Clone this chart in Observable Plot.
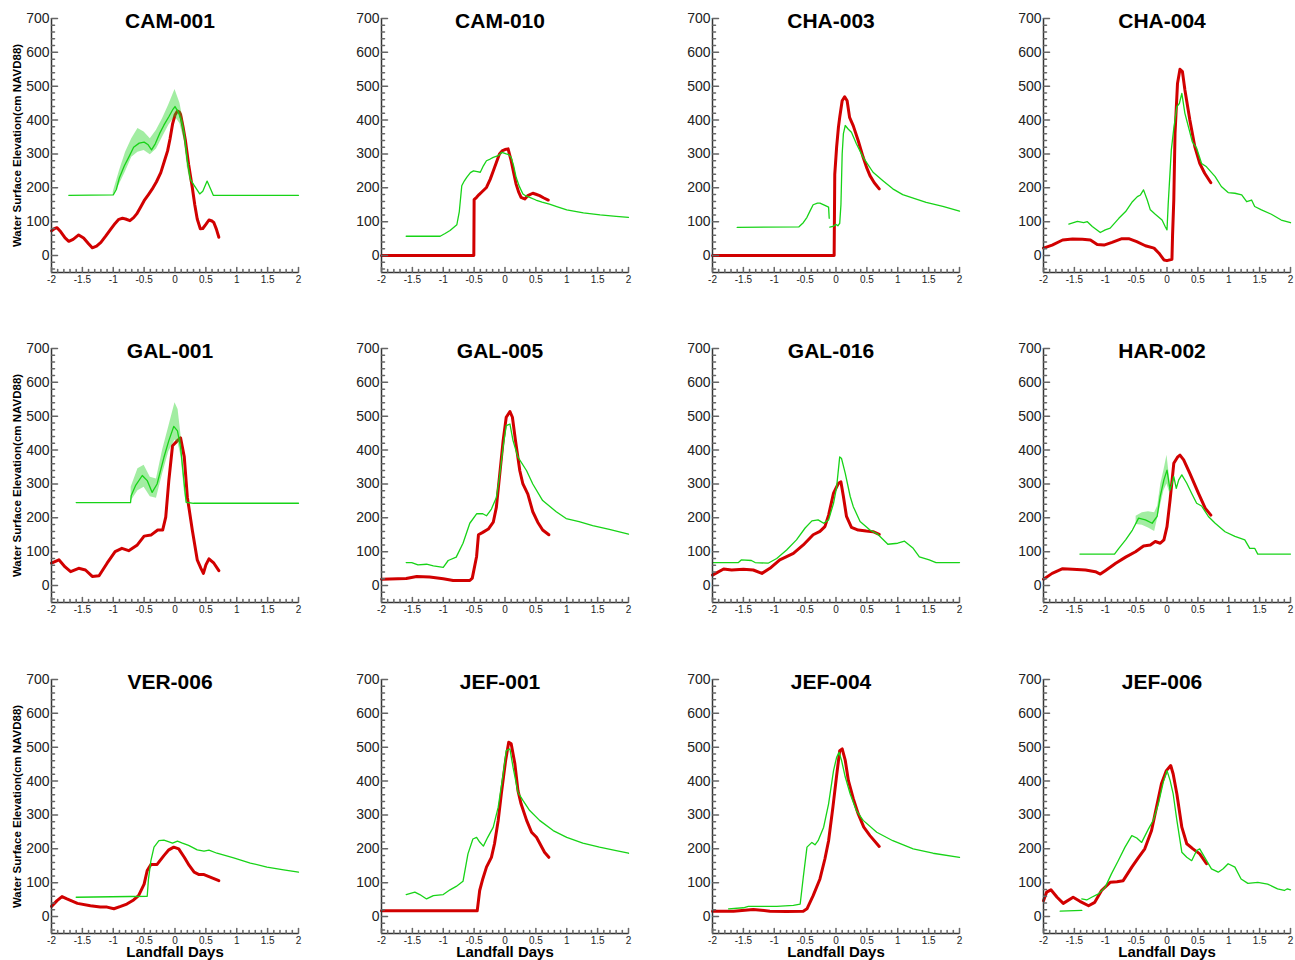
<!DOCTYPE html>
<html><head><meta charset="utf-8">
<script src="https://cdn.jsdelivr.net/npm/d3@7"></script>
<script src="https://cdn.jsdelivr.net/npm/@observablehq/plot@0.6"></script>
<style>
html,body{margin:0;padding:0;background:#fff;overflow:hidden;width:1295px;height:960px;}
#grid{position:relative;width:1295px;height:960px;overflow:hidden;}
.cell{position:absolute;width:330px;height:330px;}
.cell svg{max-width:none !important;}
</style></head><body><div id="grid"></div>
<script>
const stations = ["CAM-001","CAM-010","CHA-003","CHA-004","GAL-001","GAL-005","GAL-016","HAR-002","VER-006","JEF-001","JEF-004","JEF-006"];
const xDomain = [-2, 2];
const yDomain = [-50, 700];
const xMajor = [-2,-1.5,-1,-0.5,0,0.5,1,1.5,2];
const xMinor = d3.range(-20, 21).map(i => i / 10).filter(v => !xMajor.includes(v));
const yMajor = [0,100,200,300,400,500,600,700];
const yMinor = d3.range(-40, 701, 20).filter(v => !yMajor.includes(v));
const yLabel = "Water Surface Elevation(cm NAVD88)";
const xLabel = "Landfall Days";

// ---------- CAM-001
const redCAM001 = [[-2,73],[-1.95,80],[-1.91,82],[-1.85,70],[-1.78,52],[-1.72,42],[-1.65,48],[-1.56,61],[-1.48,52],[-1.4,35],[-1.34,23],[-1.27,28],[-1.2,39],[-1.12,58],[-1.04,78],[-0.97,95],[-0.91,107],[-0.85,110],[-0.8,108],[-0.73,103],[-0.67,112],[-0.62,123],[-0.56,142],[-0.5,162],[-0.43,180],[-0.37,196],[-0.3,218],[-0.23,245],[-0.17,280],[-0.12,309],[-0.08,345],[-0.04,388],[0,415],[0.04,427],[0.07,424],[0.09,417],[0.13,380],[0.17,338],[0.22,270],[0.28,201],[0.32,150],[0.36,108],[0.41,79],[0.45,80],[0.5,92],[0.55,105],[0.6,102],[0.63,97],[0.67,78],[0.71,54]];
const greenCAM001 = [[-1.72,178],[-1.0,179],[-0.95,195],[-0.9,230],[-0.82,265],[-0.75,290],[-0.67,320],[-0.58,332],[-0.5,335],[-0.44,328],[-0.38,312],[-0.32,330],[-0.25,360],[-0.18,385],[-0.1,410],[-0.04,430],[0,440],[0.05,425],[0.1,400],[0.15,360],[0.2,280],[0.25,225],[0.3,210],[0.35,196],[0.4,182],[0.45,190],[0.52,220],[0.58,195],[0.62,178],[2,178]];
const cloudCAM001 = [[-1.0,178,188],[-0.9,210,250],[-0.8,248,305],[-0.7,290,345],[-0.6,305,375],[-0.5,310,365],[-0.4,298,345],[-0.3,315,370],[-0.2,350,405],[-0.1,385,445],[0,410,490],[0.08,390,450],[0.15,340,385],[0.2,260,305],[0.25,215,235]];
// ---------- CAM-010
const redCAM010 = [[-2,0],[-0.505,0],[-0.5,165],[-0.46,172],[-0.42,180],[-0.38,187],[-0.3,201],[-0.24,225],[-0.19,250],[-0.14,275],[-0.09,300],[-0.04,310],[0,313],[0.05,315],[0.1,280],[0.14,245],[0.18,211],[0.22,188],[0.26,172],[0.32,167],[0.37,177],[0.45,184],[0.5,181],[0.56,177],[0.63,170],[0.7,164]];
const greenCAM010 = [[-1.6,57],[-1.05,57],[-0.97,65],[-0.89,74],[-0.78,91],[-0.74,130],[-0.7,206],[-0.66,220],[-0.62,231],[-0.56,245],[-0.51,250],[-0.45,248],[-0.4,246],[-0.35,265],[-0.3,280],[-0.24,285],[-0.19,290],[-0.11,295],[-0.05,305],[0.02,300],[0.06,298],[0.1,290],[0.14,265],[0.18,231],[0.23,205],[0.29,182],[0.34,176],[0.4,172],[0.5,164],[0.6,158],[0.72,152],[0.85,144],[1.0,135],[1.27,126],[1.54,120],[1.8,116],[2.0,113]];
// ---------- CHA-003
const redCHA003 = [[-2,0],[-0.03,0],[-0.02,240],[0.01,320],[0.04,380],[0.06,408],[0.1,457],[0.14,469],[0.18,457],[0.22,408],[0.28,383],[0.36,339],[0.44,290],[0.5,258],[0.55,236],[0.62,215],[0.7,197]];
const greenCHA003 = [[-1.6,83],[-0.6,85],[-0.53,97],[-0.47,113],[-0.42,132],[-0.37,150],[-0.3,155],[-0.26,155],[-0.18,148],[-0.12,143],[-0.11,110],[-0.1,null],[-0.1,84],[-0.05,86],[0,92],[0.03,88],[0.06,95],[0.08,150],[0.1,300],[0.12,360],[0.15,384],[0.2,373],[0.25,364],[0.33,330],[0.44,290],[0.6,246],[0.76,221],[0.92,197],[1.08,180],[1.3,167],[1.46,157],[1.73,145],[2.0,131]];
// ---------- CHA-004
const redCHA004 = [[-2,22],[-1.86,31],[-1.69,46],[-1.53,49],[-1.37,48],[-1.24,46],[-1.13,33],[-1.02,31],[-0.89,39],[-0.73,50],[-0.62,50],[-0.49,41],[-0.35,29],[-0.21,22],[-0.13,7],[-0.05,-13],[0,-15],[0.08,-11],[0.09,60],[0.11,164],[0.13,361],[0.17,508],[0.21,550],[0.25,543],[0.29,489],[0.37,400],[0.45,322],[0.53,272],[0.61,243],[0.71,215]];
const greenCHA004 = [[-1.59,93],[-1.45,101],[-1.35,97],[-1.29,100],[-1.21,86],[-1.08,68],[-1.0,76],[-0.92,81],[-0.78,110],[-0.67,130],[-0.56,159],[-0.48,174],[-0.43,179],[-0.38,194],[-0.32,164],[-0.27,135],[-0.19,122],[-0.08,105],[-0.03,86],[0,76],[0.02,154],[0.07,312],[0.11,376],[0.16,440],[0.2,449],[0.24,479],[0.29,420],[0.36,371],[0.41,336],[0.48,317],[0.56,272],[0.64,262],[0.78,233],[0.88,204],[0.99,186],[1.1,184],[1.21,179],[1.29,159],[1.37,164],[1.42,145],[1.53,135],[1.69,122],[1.85,105],[2.0,97]];
// ---------- GAL-001
const redGAL001 = [[-2,66],[-1.88,76],[-1.78,55],[-1.69,41],[-1.56,51],[-1.45,46],[-1.34,27],[-1.23,29],[-1.1,66],[-0.97,100],[-0.86,110],[-0.75,103],[-0.61,120],[-0.5,146],[-0.39,149],[-0.28,164],[-0.2,164],[-0.15,202],[-0.1,310],[-0.04,413],[0.04,428],[0.09,436],[0.15,380],[0.2,261],[0.28,164],[0.36,76],[0.42,51],[0.46,36],[0.5,61],[0.55,79],[0.63,66],[0.71,44]];
const greenGAL001 = [[-1.6,245],[-0.72,245],[-0.71,265],[-0.64,295],[-0.53,325],[-0.45,310],[-0.37,275],[-0.29,300],[-0.18,378],[-0.1,428],[-0.02,470],[0.04,457],[0.09,408],[0.15,300],[0.18,246],[0.3,243],[2.0,243]];
const cloudGAL001 = [[-0.71,250,290],[-0.6,280,345],[-0.5,290,355],[-0.4,262,320],[-0.3,258,315],[-0.2,330,400],[-0.1,395,470],[0,430,540],[0.05,420,520],[0.1,380,440],[0.15,280,320],[0.18,246,260]];
// ---------- GAL-005
const redGAL005 = [[-2,19],[-1.6,21],[-1.43,27],[-1.22,25],[-1.0,20],[-0.84,15],[-0.57,15],[-0.53,22],[-0.46,86],[-0.43,150],[-0.36,157],[-0.27,167],[-0.19,187],[-0.14,231],[-0.09,320],[-0.03,428],[0.02,497],[0.08,514],[0.12,497],[0.17,428],[0.24,339],[0.29,300],[0.37,270],[0.45,218],[0.53,187],[0.61,164],[0.71,150]];
const greenGAL005 = [[-1.6,68],[-1.51,68],[-1.41,61],[-1.27,63],[-1.16,58],[-1.0,54],[-0.92,74],[-0.79,84],[-0.68,125],[-0.57,184],[-0.46,212],[-0.36,212],[-0.3,206],[-0.22,226],[-0.14,260],[-0.09,320],[-0.03,410],[0.02,472],[0.08,477],[0.13,428],[0.21,379],[0.35,339],[0.45,300],[0.61,251],[0.83,218],[0.99,198],[1.2,189],[1.42,177],[1.69,166],[2.0,152]];
// ---------- GAL-016
const redGAL016 = [[-2,31],[-1.82,49],[-1.69,46],[-1.5,48],[-1.34,46],[-1.2,36],[-1.07,51],[-0.91,76],[-0.69,95],[-0.53,120],[-0.37,150],[-0.26,160],[-0.18,174],[-0.12,208],[-0.04,273],[0.04,302],[0.08,306],[0.12,263],[0.17,204],[0.25,172],[0.36,164],[0.49,161],[0.6,159],[0.7,151]];
const greenGAL016 = [[-2,68],[-1.58,68],[-1.53,76],[-1.37,74],[-1.31,68],[-1.1,66],[-0.96,80],[-0.8,105],[-0.64,135],[-0.5,170],[-0.39,191],[-0.29,194],[-0.2,184],[-0.12,194],[-0.04,243],[0.01,291],[0.06,380],[0.09,375],[0.15,331],[0.23,263],[0.28,233],[0.39,189],[0.55,164],[0.68,151],[0.84,122],[1.0,125],[1.11,131],[1.25,110],[1.35,85],[1.51,76],[1.62,68],[2.0,68]];
// ---------- HAR-002
const redHAR002 = [[-2,19],[-1.86,36],[-1.69,50],[-1.53,48],[-1.32,46],[-1.16,41],[-1.08,34],[-1.0,44],[-0.83,66],[-0.67,84],[-0.51,100],[-0.38,117],[-0.27,120],[-0.19,130],[-0.11,125],[-0.05,135],[0.0,174],[0.05,253],[0.11,361],[0.17,379],[0.21,385],[0.27,371],[0.37,331],[0.51,272],[0.62,228],[0.71,208]];
const greenHAR002 = [[-1.41,93],[-0.85,93],[-0.78,110],[-0.67,135],[-0.56,164],[-0.46,199],[-0.35,194],[-0.24,184],[-0.16,204],[-0.11,263],[-0.05,312],[0.0,341],[0.05,282],[0.11,322],[0.15,287],[0.19,312],[0.24,327],[0.32,302],[0.4,272],[0.48,243],[0.56,235],[0.67,204],[0.78,184],[0.94,159],[1.1,145],[1.26,135],[1.34,110],[1.42,110],[1.47,93],[2.0,93]];
const cloudHAR002 = [[-0.5,180,205],[-0.4,178,215],[-0.3,170,218],[-0.2,160,215],[-0.15,200,235],[-0.1,240,300],[-0.05,280,340],[0,300,385],[0.05,270,305]];
// ---------- VER-006
const redVER006 = [[-2,30],[-1.91,47],[-1.83,59],[-1.75,52],[-1.58,39],[-1.37,32],[-1.21,28],[-1.1,28],[-0.99,23],[-0.88,30],[-0.78,37],[-0.67,49],[-0.59,62],[-0.5,96],[-0.45,136],[-0.39,154],[-0.29,154],[-0.18,180],[-0.1,197],[-0.02,205],[0.06,200],[0.15,175],[0.23,151],[0.31,131],[0.39,124],[0.47,124],[0.58,116],[0.71,106]];
const greenVER006 = [[-1.6,57],[-0.45,60],[-0.43,110],[-0.39,165],[-0.34,205],[-0.26,224],[-0.18,226],[-0.12,222],[-0.04,217],[0.04,223],[0.12,217],[0.22,210],[0.36,197],[0.47,193],[0.55,196],[0.68,187],[0.95,173],[1.22,158],[1.49,146],[1.76,138],[2.0,131]];
// ---------- JEF-001
const redJEF001 = [[-2,17],[-0.45,17],[-0.41,77],[-0.36,111],[-0.3,146],[-0.22,175],[-0.17,215],[-0.11,284],[-0.06,362],[0.01,461],[0.06,515],[0.1,510],[0.16,451],[0.21,372],[0.26,333],[0.35,284],[0.43,249],[0.51,234],[0.56,217],[0.64,190],[0.71,175]];
const greenJEF001 = [[-1.6,65],[-1.46,72],[-1.38,65],[-1.27,52],[-1.16,62],[-1.0,65],[-0.89,79],[-0.79,89],[-0.68,104],[-0.6,185],[-0.52,229],[-0.46,234],[-0.41,220],[-0.35,208],[-0.28,234],[-0.19,264],[-0.11,323],[-0.03,421],[0.02,490],[0.08,495],[0.13,441],[0.21,367],[0.29,343],[0.4,313],[0.56,284],[0.78,254],[1.0,234],[1.26,217],[1.53,205],[1.8,195],[2.0,187]];
// ---------- JEF-004
const redJEF004 = [[-2,16],[-1.66,16],[-1.34,21],[-1.07,16],[-0.8,15],[-0.53,16],[-0.47,23],[-0.37,62],[-0.26,111],[-0.18,170],[-0.12,224],[-0.05,323],[0.01,416],[0.06,490],[0.1,495],[0.15,461],[0.2,402],[0.28,348],[0.36,303],[0.45,264],[0.55,239],[0.7,207]];
const greenJEF004 = [[-1.74,23],[-1.5,26],[-1.42,30],[-1.23,30],[-0.96,30],[-0.69,33],[-0.58,37],[-0.53,116],[-0.47,205],[-0.39,219],[-0.34,212],[-0.29,224],[-0.2,264],[-0.12,333],[-0.04,431],[0.01,470],[0.05,485],[0.09,461],[0.15,412],[0.23,362],[0.33,313],[0.44,284],[0.66,249],[0.92,224],[1.25,200],[1.57,187],[2.0,175]];
// ---------- JEF-006
const redJEF006 = [[-2,47],[-1.95,72],[-1.88,79],[-1.78,57],[-1.68,39],[-1.52,57],[-1.41,45],[-1.27,32],[-1.17,42],[-1.06,77],[-0.92,101],[-0.81,103],[-0.71,106],[-0.57,146],[-0.46,175],[-0.36,200],[-0.25,254],[-0.17,323],[-0.09,392],[-0.01,431],[0.06,446],[0.1,421],[0.16,362],[0.24,264],[0.32,215],[0.42,200],[0.53,185],[0.64,156]];
const greenJEF006 = [[-1.73,16],[-1.38,18],[-1.38,null],[-1.38,52],[-1.3,49],[-1.22,57],[-1.11,67],[-1.0,87],[-0.9,126],[-0.79,165],[-0.68,205],[-0.57,239],[-0.49,232],[-0.41,219],[-0.3,259],[-0.22,285],[-0.14,333],[-0.06,397],[0.0,431],[0.05,402],[0.1,362],[0.16,284],[0.24,190],[0.32,175],[0.4,165],[0.48,195],[0.53,200],[0.61,175],[0.72,141],[0.83,131],[0.91,141],[0.99,156],[1.1,146],[1.2,111],[1.31,98],[1.47,101],[1.63,96],[1.79,82],[1.9,77],[1.95,82],[2.0,79]];

const redSeries = [redCAM001, redCAM010, redCHA003, redCHA004, redGAL001, redGAL005, redGAL016, redHAR002, redVER006, redJEF001, redJEF004, redJEF006];
const greenSeries = [greenCAM001, greenCAM010, greenCHA003, greenCHA004, greenGAL001, greenGAL005, greenGAL016, greenHAR002, greenVER006, greenJEF001, greenJEF004, greenJEF006];
const cloudSeries = [cloudCAM001, null, null, null, cloudGAL001, null, null, cloudHAR002, null, null, null, null];

const RED = "#d10000", GREEN = "#17d317", AXIS = "#333", TICK = "#666";
const colLeft = [0, 330, 661, 992];
const rowTop = [0, 330, 661];
const tickShape = {draw(context, l) { context.moveTo(0, 0); context.lineTo(0, -l); }};

const grid = document.getElementById("grid");
stations.forEach((name, i) => {
  const col = i % 4, row = Math.floor(i / 4);
  const marks = [
    Plot.line(redSeries[i], {x: d => d[0], y: d => d[1], stroke: RED, strokeWidth: 3, strokeLinejoin: "round"}),
  ];
  if (cloudSeries[i]) marks.push(Plot.areaY(cloudSeries[i], {x: d => d[0], y1: d => d[1], y2: d => d[2], fill: GREEN, fillOpacity: 0.4}));
  marks.push(Plot.line(greenSeries[i], {x: d => d[0], y: d => d[1], stroke: GREEN, strokeWidth: 1.3}));
  marks.push(
    Plot.ruleX([xDomain[0]], {stroke: AXIS, strokeWidth: 1.5}),
    Plot.ruleY([yDomain[0]], {stroke: AXIS, strokeWidth: 1.5}),
    Plot.vector(xMajor, {x: d => d, frameAnchor: "bottom", length: 5, rotate: 0, anchor: "start", shape: tickShape, stroke: TICK}),
    Plot.vector(xMinor, {x: d => d, frameAnchor: "bottom", length: 3, rotate: 0, anchor: "start", shape: tickShape, stroke: TICK}),
    Plot.vector(yMajor, {y: d => d, frameAnchor: "left", length: 6, rotate: 90, anchor: "start", shape: tickShape, stroke: TICK}),
    Plot.vector(yMinor, {y: d => d, frameAnchor: "left", length: 3, rotate: 90, anchor: "start", shape: tickShape, stroke: TICK}),
    Plot.axisX({ticks: xMajor, tickSize: 0, tickPadding: 3, fontSize: 10, tickFormat: d => String(d), label: null, fill: "#222"}),
    Plot.axisY({ticks: yMajor, tickSize: 0, tickPadding: 2, fontSize: 14, tickFormat: d => String(d), label: null, fill: "#222"}),
    Plot.text([name], {frameAnchor: "top", lineAnchor: "middle", textAnchor: "middle", dy: 3, dx: -5, fontSize: 21, fontWeight: "bold", fill: "#000"})
  );
  if (col === 0) marks.push(Plot.text([yLabel], {frameAnchor: "left", textAnchor: "middle", lineAnchor: "middle", rotate: -90, dx: -34, fontSize: 11.5, fontWeight: "bold", fill: "#000"}));
  if (row === 2) marks.push(Plot.text([xLabel], {frameAnchor: "bottom", textAnchor: "middle", lineAnchor: "middle", dy: 19, fontSize: 15, fontWeight: "bold", fill: "#000"}));
  const chart = Plot.plot({
    width: 330, height: 330,
    marginLeft: 51, marginRight: 32, marginTop: 18, marginBottom: 58,
    style: {fontFamily: "'Liberation Sans', Arial, sans-serif", background: "transparent", overflow: "visible", maxWidth: "none"},
    x: {domain: xDomain},
    y: {domain: yDomain},
    marks
  });
  const div = document.createElement("div");
  div.className = "cell";
  div.style.left = colLeft[col] + "px";
  div.style.top = rowTop[row] + "px";
  div.appendChild(chart);
  grid.appendChild(div);
});
</script></body></html>
